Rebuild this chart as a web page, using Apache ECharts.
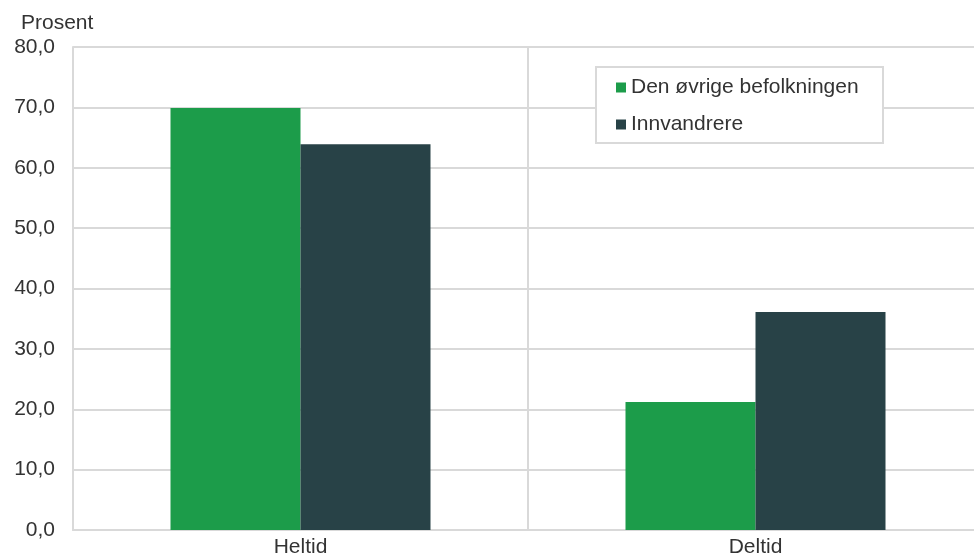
<!DOCTYPE html>
<html><head><meta charset="utf-8">
<script src="https://cdn.jsdelivr.net/npm/echarts@6/dist/echarts.min.js"></script>
<style>html,body{margin:0;padding:0;background:#fff}#c{width:974px;height:557px}</style>
</head><body><div id="c"></div>
<script>
const categories = ['Heltid', 'Deltid'];
const seriesNames = ['Den øvrige befolkningen', 'Innvandrere'];
const valuesOvrige = [69.9, 21.2];
const valuesInnv = [63.9, 36.1];
const colors = ['#1c9c4a', '#284247'];

const chart = echarts.init(document.getElementById('c'));
const font = 'Liberation Sans, Arial, sans-serif';
const fs = 21;
chart.setOption({
  animation: false,
  textStyle: { fontFamily: font },
  grid: { left: 73, width: 910, top: 47, bottom: 27, outerBoundsMode: 'none', containLabel: false },
  legend: {
    left: 611, top: 72, orient: 'vertical', itemGap: 16,
    icon: 'rect', itemWidth: 10, itemHeight: 10, z: 20,
    textStyle: { fontSize: fs, color: '#333', fontFamily: font },
    data: seriesNames
  },
  graphic: [{
    type: 'rect', z: 10, left: 595, top: 66,
    shape: { width: 287, height: 76 },
    style: { fill: '#fff', stroke: '#d9d9d9', lineWidth: 2 }
  }, {
    type: 'text', left: 21, top: 13,
    style: { text: 'Prosent', fontSize: fs, fill: '#333', fontFamily: font }
  }],
  xAxis: {
    type: 'category', data: categories,
    axisLine: { lineStyle: { color: '#d9d9d9', width: 2 } },
    axisTick: { show: false },
    splitLine: { show: true, lineStyle: { color: '#d9d9d9', width: 2 } },
    axisLabel: { fontSize: fs, color: '#333', margin: 7, fontFamily: font }
  },
  yAxis: {
    type: 'value', min: 0, max: 80, interval: 10,
    axisLine: { show: true, lineStyle: { color: '#d9d9d9', width: 2 } },
    axisTick: { show: false },
    splitLine: { lineStyle: { color: '#d9d9d9', width: 2 } },
    axisLabel: { fontSize: fs, color: '#333', margin: 18, fontFamily: font,
      formatter: v => v.toFixed(1).replace('.', ',') }
  },
  series: [
    { name: seriesNames[0], type: 'bar', data: valuesOvrige, barWidth: 130, barGap: '0%',
      itemStyle: { color: colors[0] } },
    { name: seriesNames[1], type: 'bar', data: valuesInnv, barWidth: 130, barGap: '0%',
      itemStyle: { color: colors[1] } }
  ]
});
</script></body></html>
